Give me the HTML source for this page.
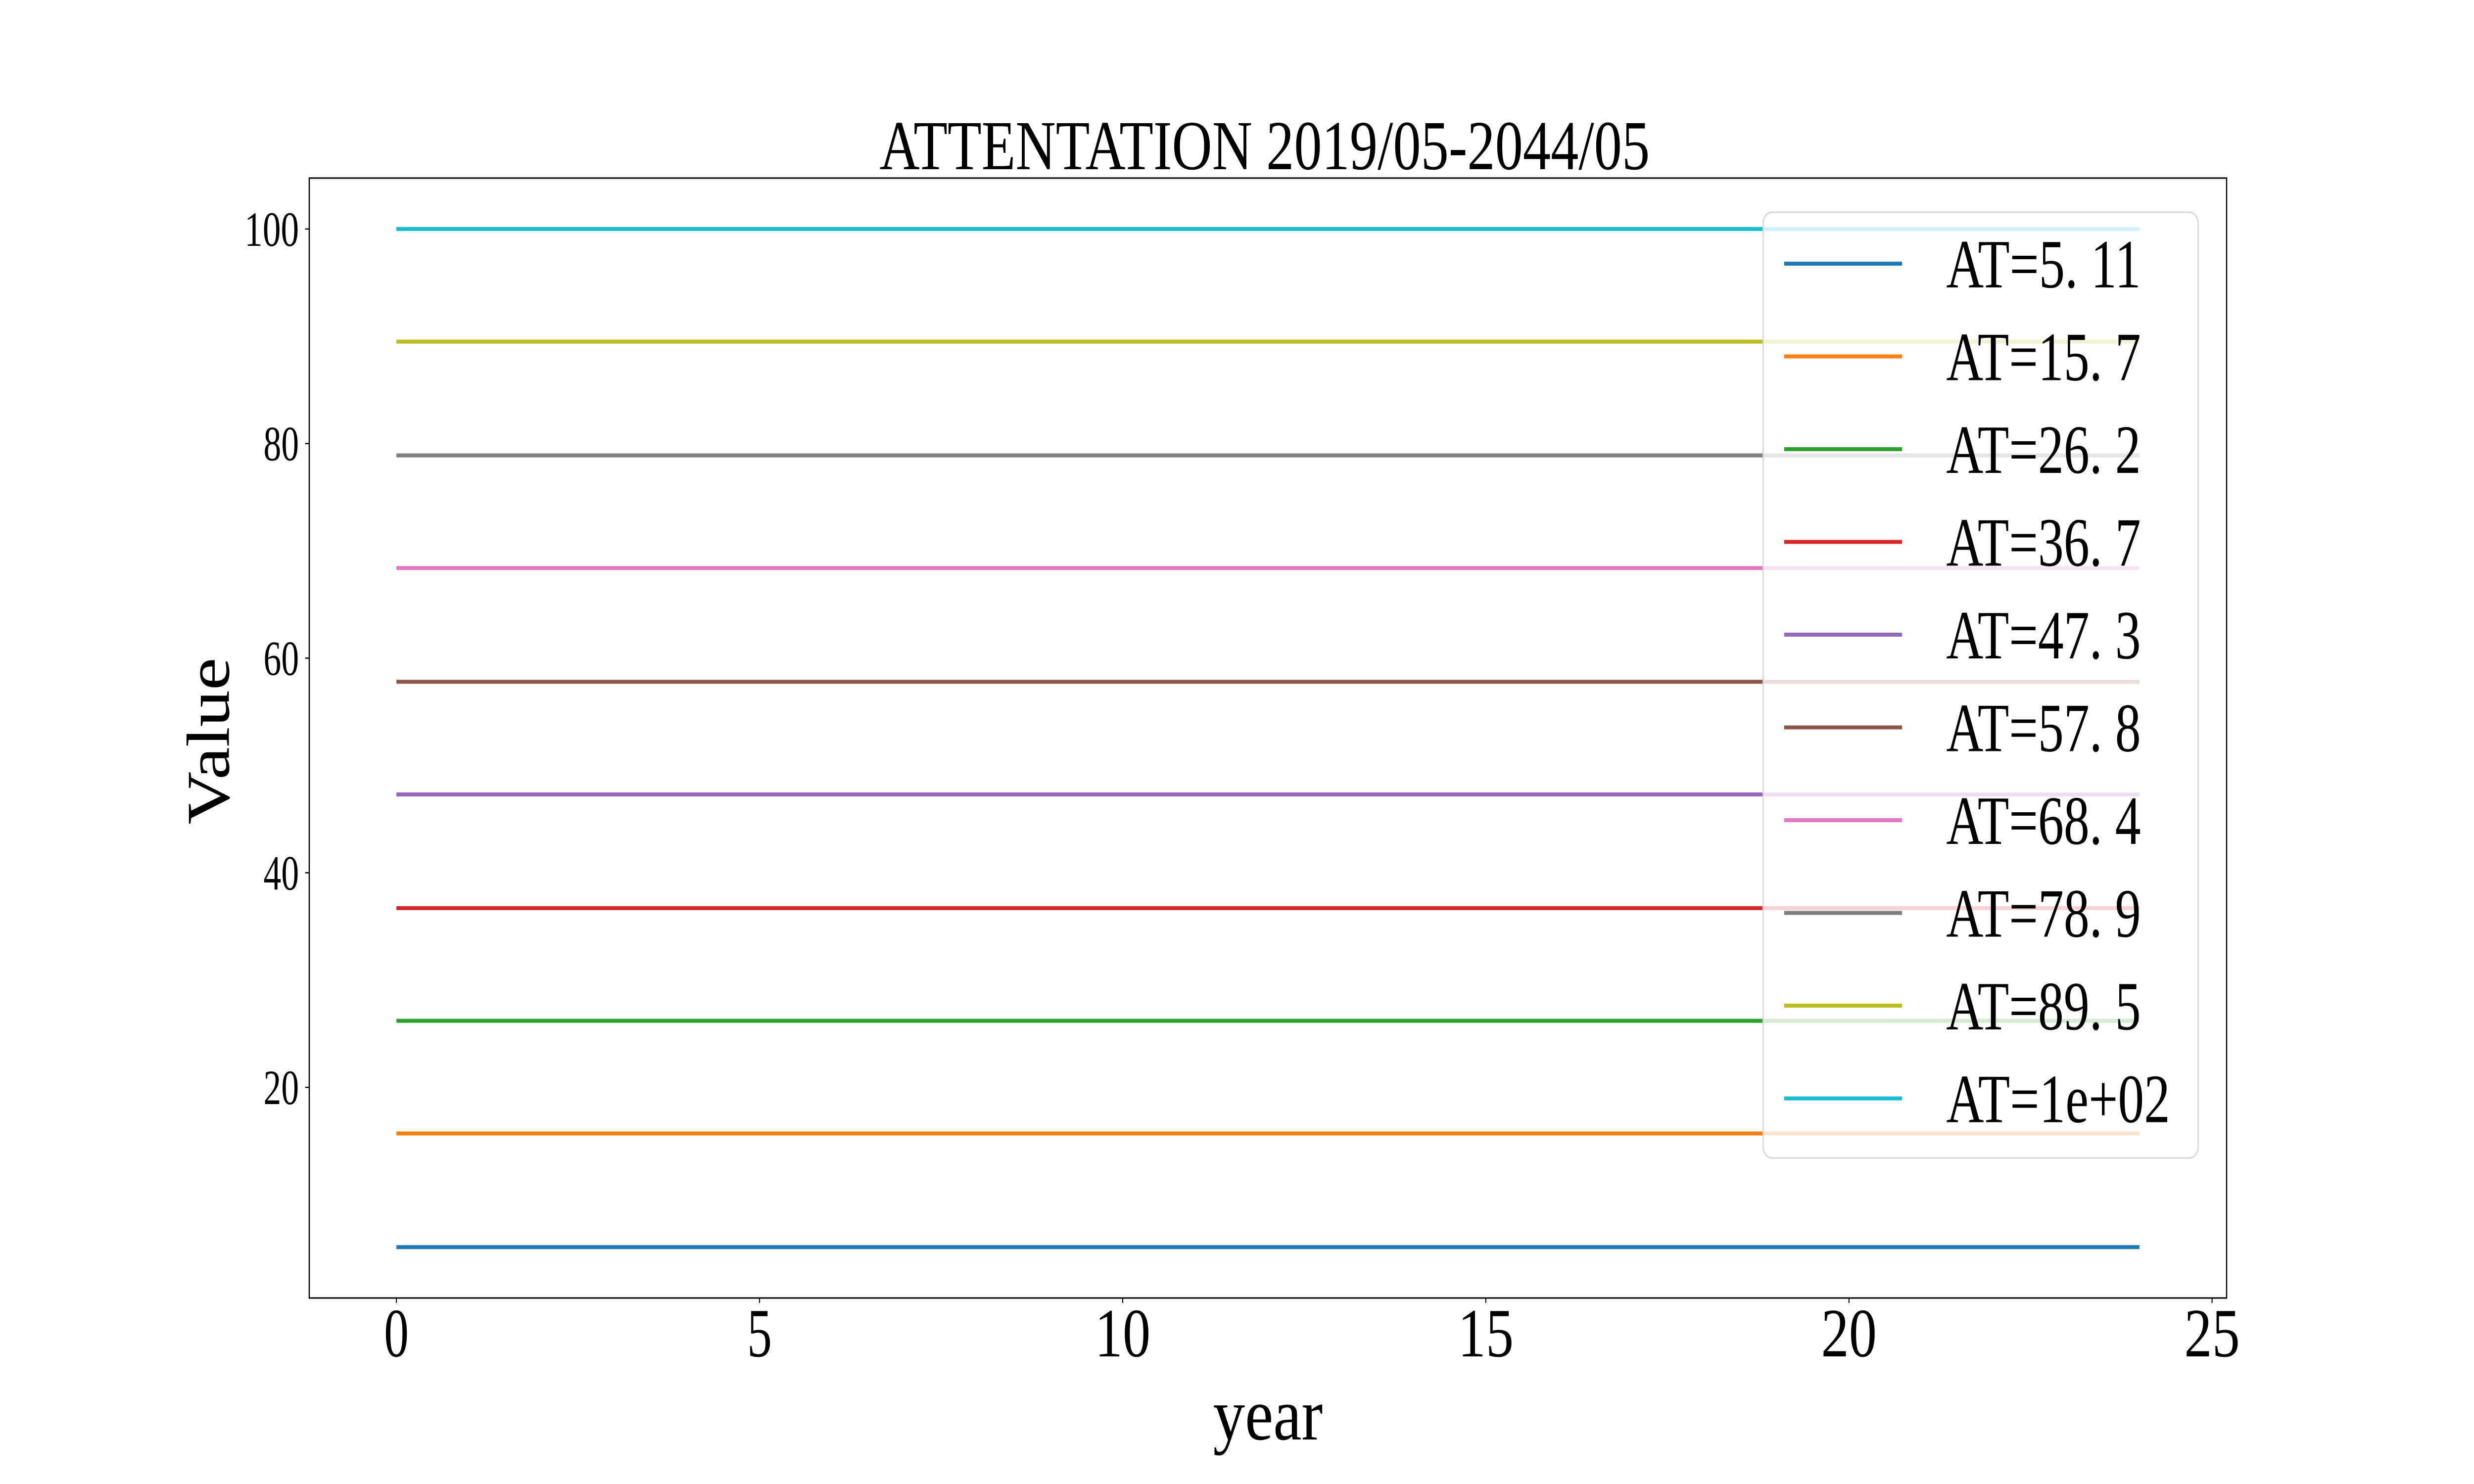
<!DOCTYPE html>
<html><head><meta charset="utf-8"><style>html,body{margin:0;padding:0;background:#fff;overflow:hidden;width:100%;height:100%}svg{display:block;position:fixed;left:0;top:0;width:100vw;height:100vh}</style></head>
<body>
<svg id="chart" xmlns="http://www.w3.org/2000/svg" viewBox="0 0 6000 3000" preserveAspectRatio="none" font-family="'Liberation Serif', 'Noto Serif CJK SC', serif">
<rect x="0" y="0" width="6000" height="3000" fill="#fff"/>
<g id="plot"></g>
</svg>
<script>
const years = [0, 24];
const seriesValues = [5.11, 15.7, 26.2, 36.7, 47.3, 57.8, 68.4, 78.9, 89.5, 100];
const seriesLabels = ["AT=5. 11","AT=15. 7","AT=26. 2","AT=36. 7","AT=47. 3","AT=57. 8","AT=68. 4","AT=78. 9","AT=89. 5","AT=1e+02"];
const xTicks = [0, 5, 10, 15, 20, 25];
const yTicks = [20, 40, 60, 80, 100];
const colors = ["#1f77b4","#ff7f0e","#2ca02c","#d62728","#9467bd","#8c564b","#e377c2","#7f7f7f","#bcbd22","#17becf"];

const NS = "http://www.w3.org/2000/svg";
const L = 750, R = 5400, T = 360, B = 2624;
const xmin = Math.min(...years), xmax = Math.max(...years);
const xpad = (xmax - xmin) * 0.05;
const vmin = Math.min(...seriesValues), vmax = Math.max(...seriesValues);
const ypad = (vmax - vmin) * 0.05;
function xs(v){ return L + (v - (xmin - xpad)) / ((xmax + xpad) - (xmin - xpad)) * (R - L); }
function ys(v){ return B - (v - (vmin - ypad)) / ((vmax + ypad) - (vmin - ypad)) * (B - T); }
const g = document.getElementById('plot');
function mk(tag, attrs, parent){ const e = document.createElementNS(NS, tag); for (const k in attrs) e.setAttribute(k, attrs[k]); (parent||g).appendChild(e); return e; }

seriesValues.forEach((v, i) => {
  const ln = mk('line', {x1: xs(years[0]), x2: xs(years[1]), y1: ys(v), y2: ys(v), stroke: colors[i], 'stroke-width': 8});
  
  
});

const frame = mk('rect', {x: L, y: T, width: R-L, height: B-T, fill: 'none', stroke: '#000', 'stroke-width': 3});



xTicks.forEach(t => {
  const x = xs(t);
  const tk = mk('line', {x1: x, x2: x, y1: B, y2: B+10, stroke: '#000', 'stroke-width': 2.5});
  
  
  const s = String(t);
  const tx = mk('text', {x: x, y: 2742, 'text-anchor': 'middle', 'font-size': 140, fill: '#000', textLength: s.length === 1 ? 60 : 135, lengthAdjust: 'spacingAndGlyphs'});
  tx.textContent = s;
  
  
});
yTicks.forEach(t => {
  const y = ys(t);
  const tk = mk('line', {x1: L-10, x2: L, y1: y, y2: y, stroke: '#000', 'stroke-width': 2.5});
  
  
  const s = String(t);
  const tx = mk('text', {x: 725, y: y + 34, 'text-anchor': 'end', 'font-size': 100, fill: '#000', textLength: s.length === 3 ? 132 : 86, lengthAdjust: 'spacingAndGlyphs'});
  tx.textContent = s;
  
  
});

const lg = mk('g', {});


mk('rect', {x: 4276, y: 429, width: 1055, height: 1912, rx: 22, fill: 'rgba(255,255,255,0.8)', stroke: '#d6d6d6', 'stroke-width': 3}, lg);
seriesLabels.forEach((lab, i) => {
  const ry = 533 + i * 187.5;
  const h = mk('line', {x1: 4327, x2: 4613, y1: ry, y2: ry, stroke: colors[i], 'stroke-width': 8}, lg);
  
  
  const tx = mk('text', {x: 4720, y: ry + 48, 'font-size': 140, fill: '#000', textLength: lab.indexOf('e') < 0 ? 472 : 543, lengthAdjust: 'spacingAndGlyphs'}, lg);
  tx.textContent = lab;
  
  
});

const title = mk('text', {x: 3067, y: 342, 'text-anchor': 'middle', 'font-size': 142, fill: '#000', textLength: 1868, lengthAdjust: 'spacingAndGlyphs'});
title.textContent = 'ATTENTATION 2019/05-2044/05';


const xl = mk('text', {x: 3075, y: 2910, 'text-anchor': 'middle', 'font-size': 150, fill: '#000', textLength: 266, lengthAdjust: 'spacingAndGlyphs'});
xl.textContent = 'year';


const yl = mk('text', {x: 0, y: 0, 'text-anchor': 'middle', 'font-size': 148, fill: '#000', textLength: 337, lengthAdjust: 'spacingAndGlyphs', transform: 'translate(555,1498) rotate(-90)'});
yl.textContent = 'Value';


</script>
</body></html>
